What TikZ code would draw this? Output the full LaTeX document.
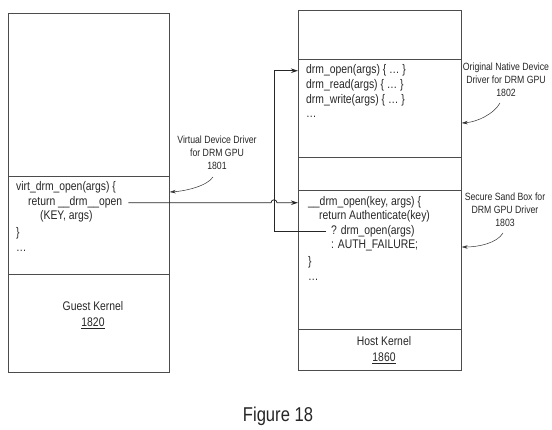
\documentclass[tikz,border=0pt]{standalone}
\usepackage{fontspec}
\setmainfont{Liberation Sans}[FakeStretch=0.83]
\usetikzlibrary{arrows.meta}
\begin{document}
\begin{tikzpicture}[x=1pt,y=-1pt,
  box/.style={draw=black!70, line width=0.7pt, inner sep=0pt},
  divider/.style={draw=black!70, line width=0.7pt},
  code/.style={anchor=base west, inner sep=0pt, text=black!85, font=\fontsize{12.5}{15}\selectfont},
  kern/.style={align=center, inner sep=0pt, text=black!85, font=\fontsize{12.5}{16}\selectfont},
  lbl/.style={align=center, inner sep=0pt, text=black!85, font=\fontsize{10.5}{13}\selectfont},
  conn/.style={draw=black!85, line width=0.8pt, -{Stealth[length=7pt,width=4.5pt]}},
  note/.style={draw=black!80, line width=0.5pt, -{Stealth[length=6pt,width=3.5pt]}}]
\useasboundingbox (0,0) rectangle (552,430);

% boxes
\node[box, minimum width=161pt, minimum height=359pt, anchor=north west] (guest) at (8,13) {};
\node[box, minimum width=163pt, minimum height=360pt, anchor=north west] (host) at (298,10) {};
\draw[divider] (8,176) -- (169,176);
\draw[divider] (8,274) -- (169,274);
\draw[divider] (298,59) -- (461,59);
\draw[divider] (298,157) -- (461,157);
\draw[divider] (298,190) -- (461,190);
\draw[divider] (298,329) -- (461,329);

% guest code
\node[code] (v1) at (16,191) {virt\_drm\_open(args) \{};
\node[code] (v2) at (28,206) {return \_\_drm\_\_open};
\node[code] (v3) at (40,220) {(KEY, args)};
\node[code] (v4) at (16,237) {\}};
\node[code] (v5) at (16,252) {\ldots};
\node[kern] (gk) at (93,315) {Guest Kernel\\\underline{1820}};

% native driver code
\node[code] (d1) at (306,74) {drm\_open(args) \{ \ldots\ \}};
\node[code] (d2) at (306,89) {drm\_read(args) \{ \ldots\ \}};
\node[code] (d3) at (306,104) {drm\_write(args) \{ \ldots\ \}};
\node[code] (d4) at (306,118) {\ldots};

% sandbox code
\node[code] (s1) at (308,206) {\_\_drm\_open(key, args) \{};
\node[code] (s2) at (319,220) {return Authenticate(key)};
\node[code] (s3) at (331,235) {? drm\_open(args)};
\node[code] (s4) at (331,249) {: AUTH\_FAILURE;};
\node[code] (s5) at (308,266) {\}};
\node[code] (s6) at (308,281) {\ldots};
\node[kern] (hk) at (384,350) {Host Kernel\\\underline{1860}};

% annotations
\node[lbl] (n1) at (217,153) {Virtual Device Driver\\for DRM GPU\\1801};
\node[lbl] (n2) at (506,80) {Original Native Device\\Driver for DRM GPU\\1802};
\node[lbl] (n3) at (505,210) {Secure Sand Box for\\DRM GPU Driver\\1803};
\node[inner sep=0pt, text=black!85, font=\fontsize{20}{24}\selectfont] (fig) at (278,416) {Figure 18};

\coordinate (n1s) at (213,177);
\coordinate (n2s) at (500,103);
\coordinate (n3s) at (503,233);
\draw[note] (n1s) .. controls (207,186) and (186,191) .. (guest.east |- 0,192);
\draw[note] (n2s) .. controls (494,114) and (477,122) .. (host.east |- 0,123);
\draw[note] (n3s) .. controls (497,243) and (479,247) .. (host.east |- 0,247);

% connectors
\coordinate (hop) at (274,0);
\coordinate (hopL) at (271,0);
\draw[conn] ([xshift=6pt]v2.east) -- (hopL |- v2.east) arc[start angle=180, end angle=360, radius=3] -- (host.west |- v2.east);
\draw[conn] ([xshift=-5pt]s3.west) -- (hop |- s3.west) |- (host.west |- d1.west);
\end{tikzpicture}
\end{document}
